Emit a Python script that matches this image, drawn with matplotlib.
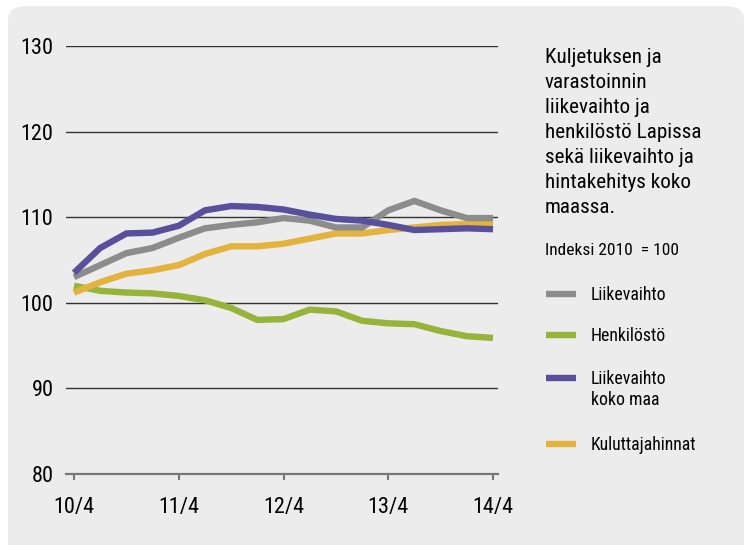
import matplotlib
matplotlib.use('Agg')
import matplotlib.pyplot as plt
from matplotlib.patches import FancyBboxPatch

plt.rcParams['font.family'] = ['Roboto Condensed', 'Liberation Sans', 'DejaVu Sans']

# quarterly data 10/4 .. 14/4
quarters = list(range(17))
tick_pos = [0, 4, 8, 12, 16]
tick_labels = ['10/4', '11/4', '12/4', '13/4', '14/4']

liikevaihto = [103.0, 104.4, 105.8, 106.4, 107.6, 108.7, 109.1, 109.4, 109.9,
               109.6, 108.8, 108.8, 110.8, 111.9, 110.8, 109.9, 109.9]
henkilosto = [102.0, 101.4, 101.2, 101.1, 100.8, 100.3, 99.4, 98.0, 98.1,
              99.2, 99.0, 97.9, 97.6, 97.5, 96.7, 96.1, 95.9]
liikevaihto_maa = [103.5, 106.4, 108.1, 108.2, 109.0, 110.8, 111.3, 111.2, 110.9,
                   110.3, 109.8, 109.6, 109.1, 108.5, 108.6, 108.7, 108.6]
kuluttajahinnat = [101.2, 102.4, 103.4, 103.8, 104.4, 105.7, 106.6, 106.6, 106.9,
                   107.5, 108.1, 108.1, 108.5, 108.8, 109.1, 109.2, 109.3]

series = [
    ('Liikevaihto', liikevaihto, '#8c8c8c'),
    ('Henkilöstö', henkilosto, '#97b43a'),
    ('Liikevaihto\nkoko maa', liikevaihto_maa, '#5a4f9c'),
    ('Kuluttajahinnat', kuluttajahinnat, '#e2b43e'),
]
draw_order = [1, 3, 0, 2]

title_lines = ['Kuljetuksen ja', 'varastoinnin', 'liikevaihto ja',
               'henkilöstö Lapissa', 'sekä liikevaihto ja',
               'hintakehitys koko', 'maassa.']

W, H = 747, 545


def fy(py):
    return 1 - py / H


fig = plt.figure(figsize=(7.47, 5.45), dpi=100)
fig.patch.set_facecolor('white')
panel = FancyBboxPatch((8 / W, -0.05), 736 / W, 539 / H + 0.05,
                       boxstyle='round,pad=0,rounding_size=0.025',
                       transform=fig.transFigure, facecolor='#ececec',
                       edgecolor='none', zorder=-5)
fig.patches.append(panel)

ax = fig.add_axes([66 / W, 71 / H, 432 / W, 428 / H])
ax.set_zorder(2)
ax.set_facecolor('none')
ax.set_xlim(-0.305, 16.19)
ax.set_ylim(80, 130)
ax.set_yticks([80, 90, 100, 110, 120, 130])
ax.yaxis.grid(True, color='#333333', linewidth=1.0)
ax.set_axisbelow(True)
for s in ['top', 'right', 'left']:
    ax.spines[s].set_visible(False)
ax.spines['bottom'].set_color('#777777')
ax.spines['bottom'].set_linewidth(1.6)
ax.tick_params(axis='y', length=0, pad=9, labelsize=16)
ax.tick_params(axis='x', length=4.5, width=1.5, color='#777777', pad=12, labelsize=16)
ax.set_xticks(tick_pos)
ax.set_xticklabels(tick_labels)

for i in draw_order:
    name, vals, col = series[i]
    ax.plot(quarters, vals, color=col, linewidth=4.6, solid_capstyle='butt',
            solid_joinstyle='miter', clip_on=False, zorder=3)

for j, line in enumerate(title_lines):
    fig.text(545 / W, fy(63 + 25 * j), line, fontsize=15.2, va='baseline', ha='left')
fig.text(545 / W, fy(255), 'Indeksi 2010  = 100', fontsize=12.5,
         va='baseline', ha='left')

legend_y = [294, 335, 378, 444]
for (name, vals, col), y in zip(series, legend_y):
    fig.add_artist(plt.Line2D([546 / W, 576 / W], [fy(y), fy(y)],
                              color=col, linewidth=4.6, solid_capstyle='butt',
                              transform=fig.transFigure))
    for j, line in enumerate(name.split('\n')):
        fig.text(591 / W, fy(y + 6 + 21 * j), line, fontsize=12.8,
                 va='baseline', ha='left')

fig.savefig('out.png', dpi=100)
